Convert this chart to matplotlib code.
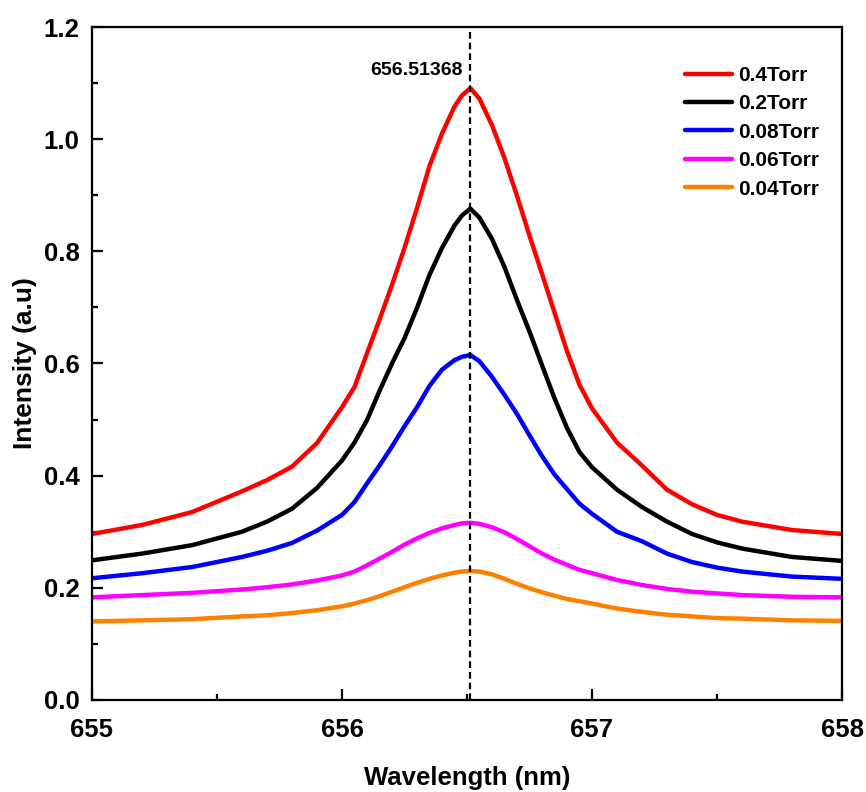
import numpy as np
import matplotlib
matplotlib.use("Agg")
import matplotlib.pyplot as plt

plt.rcParams['font.family'] = ['Liberation Sans', 'DejaVu Sans']
plt.rcParams['font.weight'] = 'bold'
plt.rcParams['axes.labelweight'] = 'bold'

# wavelength grid (nm) and intensities
wavelength = [655.0, 655.2, 655.4, 655.6, 655.7, 655.8, 655.9, 656.0, 656.05, 656.1,
              656.15, 656.2, 656.25, 656.3, 656.35, 656.4, 656.45, 656.48, 656.51368,
              656.55, 656.6, 656.65, 656.7, 656.75, 656.8, 656.85, 656.9, 656.95,
              657.0, 657.1, 657.2, 657.3, 657.4, 657.5, 657.6, 657.8, 658.0]

i_04 = [0.296, 0.312, 0.335, 0.372, 0.392, 0.416, 0.458, 0.522, 0.558, 0.618,
        0.678, 0.740, 0.806, 0.877, 0.952, 1.010, 1.058, 1.078, 1.091,
        1.072, 1.025, 0.966, 0.899, 0.828, 0.760, 0.691, 0.622, 0.562,
        0.520, 0.459, 0.418, 0.375, 0.349, 0.330, 0.318, 0.303, 0.296]
i_02 = [0.249, 0.261, 0.276, 0.300, 0.318, 0.341, 0.378, 0.427, 0.459, 0.499,
        0.551, 0.600, 0.645, 0.699, 0.758, 0.806, 0.846, 0.864, 0.876,
        0.860, 0.822, 0.772, 0.713, 0.657, 0.597, 0.538, 0.485, 0.442,
        0.415, 0.375, 0.344, 0.318, 0.296, 0.281, 0.270, 0.255, 0.248]
i_008 = [0.217, 0.226, 0.237, 0.255, 0.266, 0.280, 0.302, 0.330, 0.353, 0.386,
         0.418, 0.452, 0.488, 0.522, 0.560, 0.589, 0.606, 0.612, 0.615,
         0.604, 0.576, 0.544, 0.510, 0.472, 0.435, 0.402, 0.376, 0.350,
         0.332, 0.300, 0.283, 0.261, 0.246, 0.236, 0.229, 0.220, 0.216]
i_006 = [0.183, 0.187, 0.191, 0.197, 0.201, 0.206, 0.213, 0.222, 0.229, 0.240,
         0.252, 0.264, 0.277, 0.288, 0.298, 0.306, 0.312, 0.315, 0.316,
         0.314, 0.308, 0.299, 0.287, 0.274, 0.261, 0.250, 0.241, 0.232,
         0.226, 0.214, 0.205, 0.198, 0.193, 0.190, 0.187, 0.184, 0.183]
i_004 = [0.140, 0.142, 0.144, 0.149, 0.151, 0.155, 0.160, 0.167, 0.172, 0.178,
         0.185, 0.193, 0.201, 0.209, 0.216, 0.222, 0.227, 0.229, 0.230,
         0.229, 0.224, 0.216, 0.207, 0.199, 0.192, 0.186, 0.180, 0.176,
         0.172, 0.163, 0.157, 0.152, 0.149, 0.146, 0.145, 0.142, 0.141]

labels = ['0.4Torr', '0.2Torr', '0.08Torr', '0.06Torr', '0.04Torr']
colors = ['#FF0000', '#000000', '#0000FF', '#FF00FF', '#FF8000']
peak = 656.51368

fig = plt.figure(figsize=(8.66, 7.92), dpi=100)
ax = fig.add_axes([0.1062, 0.1162, 0.8661, 0.8497])

for y, lab, c in zip([i_04, i_02, i_008, i_006, i_004], labels, colors):
    ax.plot(wavelength, y, color=c, lw=3.2, label=lab,
            solid_joinstyle='round', solid_capstyle='round')

ax.axvline(peak, color='black', lw=1.6, ls=(0, (3, 1.8)))
ax.text(peak - 0.03, 1.122, '656.51368', ha='right', va='center', fontsize=14)

ax.set_xlim(655, 658)
ax.set_ylim(0, 1.2)
ax.set_xticks([655, 656, 657, 658])
ax.set_xticks(np.arange(655.5, 658, 1.0), minor=True)
ax.set_yticks(np.arange(0, 1.21, 0.2))
ax.set_yticks(np.arange(0.1, 1.2, 0.2), minor=True)
ax.yaxis.set_major_formatter(matplotlib.ticker.FormatStrFormatter('%.1f'))

ax.tick_params(which='both', direction='in', width=1.6, labelsize=18.5,
               top=False, right=False)
ax.tick_params(axis='x', which='both', pad=13)
ax.tick_params(axis='y', which='both', pad=9)
ax.tick_params(which='major', length=8)
ax.tick_params(which='minor', length=4.5)
for s in ax.spines.values():
    s.set_linewidth(1.6)

ax.set_xlabel('Wavelength (nm)', fontsize=18.5, labelpad=17)
ax.set_ylabel('Intensity (a.u)', fontsize=19, labelpad=5)

leg = ax.legend(loc='upper left', bbox_to_anchor=(0.79, 0.942), frameon=False,
                fontsize=15, handlelength=2.3, handletextpad=0.25,
                labelspacing=0.45, borderaxespad=0, borderpad=0)
for h in leg.get_lines():
    h.set_linewidth(3.2)

fig.savefig('out.png', dpi=100)
